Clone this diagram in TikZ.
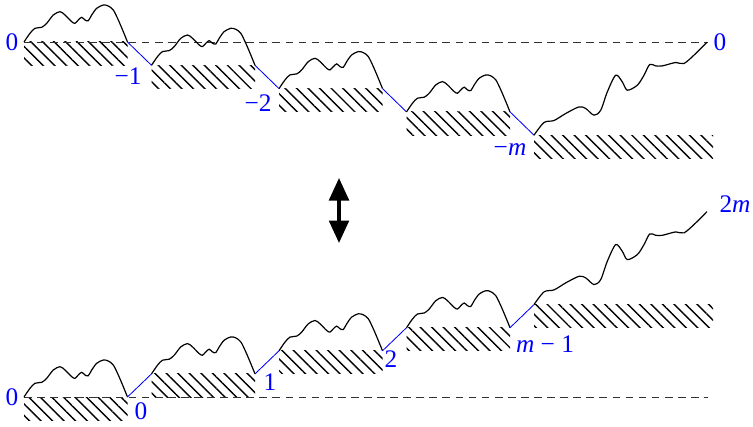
\documentclass[tikz,border=0pt]{standalone}
\usepackage{fontspec}
\setmainfont{Liberation Serif}
\usetikzlibrary{arrows.meta,patterns.meta,calc}
\definecolor{mlblue}{RGB}{0,0,255}
\definecolor{mlgray}{RGB}{50,50,50}

\tikzset{
  walk/.style={black, line width=0.85pt},
  jump/.style={mlblue, line width=0.6pt},
  level/.style={mlgray, line width=0.7pt, dash pattern=on 5.5pt off 3.8pt},
  hatch/.style={pattern={Lines[angle=-45,distance=5.8pt,line width=1pt]}},
  lab/.style={text=mlblue, inner sep=0pt, font=\fontsize{18}{20}\selectfont},
  biarrow/.style={line width=2.4pt, {Triangle[length=16pt,width=14pt]}-{Triangle[length=16pt,width=14pt]}},
  excursion/.pic={\draw[walk] plot[smooth] coordinates {(0,0) (6,-8.7) (11,-13.7) (17.7,-14.7) (22.7,-18.7) (29.3,-27) (36,-30.3) (41,-27) (47.7,-20.3) (51,-18.7) (54.3,-22) (57.7,-24.7) (61,-22) (64.3,-21.3) (67.7,-27) (72.7,-33.7) (79.3,-37) (84.3,-36) (89.3,-32) (94.3,-22) (99.3,-10.3) (103.5,0)};},
  climb/.pic={\draw[walk] plot[smooth] coordinates {(0,0) (10,-12.7) (20,-14.7) (31.7,-21.7) (45,-28.3) (51.7,-26.7) (60,-20) (66.7,-25) (73.3,-43.3) (81.7,-60) (88.3,-53.3) (93.3,-45) (103.3,-50) (110,-60) (115.7,-70.7) (121.7,-69.3) (128.3,-69.3) (141.7,-72.7) (150,-71.7) (161.7,-81.7) (173,-93)};}
}

\begin{document}
\begin{tikzpicture}[x=0.025cm, y=-0.025cm]
  \useasboundingbox (0,0) rectangle (753,426);
  % top: walk from 0 down to -m and back to 0
  \foreach \k in {0,...,4} {
    \coordinate (tp\k) at ({24+127.5*\k},{42+23.3*\k});
  }
  \foreach \k in {0,...,3} {
    \coordinate (tq\k) at ($(tp\k)+(103.5,0)$);
    \fill[hatch] (tp\k) rectangle ++(103.5,23.3);
  }
  \fill[hatch] (tp4) rectangle (713,158.5);
  \coordinate (tend) at (708,42);
  \draw[level] (tp0) -- (tend);
  \foreach \k [evaluate=\k as \n using int(\k+1)] in {0,...,3} {
    \pic at (tp\k) {excursion};
    \draw[jump] (tq\k) -- (tp\n);
  }
  \pic at (tp4) {climb};
  \node[lab] (t0) at (12,42) {0};
  \node[lab] (t1) at (128,76) {−1};
  \node[lab] (t2) at (258,103) {−2};
  \node[lab] (tm) at (510,150) {−\textit{m}};
  \node[lab] (tz) at (720,42) {0};
  % bijection
  \coordinate (up) at (339,178);
  \coordinate (down) at (339,243);
  \draw[biarrow] (up) -- (down);
  % bottom: shifted walk climbing to 2m
  \foreach \k in {0,...,4} {
    \coordinate (bp\k) at ({24+127.5*\k},{397-23.1*\k});
  }
  \foreach \k in {0,...,3} {
    \coordinate (bq\k) at ($(bp\k)+(103.5,0)$);
    \fill[hatch] (bp\k) rectangle ++(103.5,23.1);
  }
  \fill[hatch] (bp4) rectangle (713,327.7);
  \coordinate (bend) at (708,397);
  \draw[level] (bp0) -- (bend);
  \foreach \k [evaluate=\k as \n using int(\k+1)] in {0,...,3} {
    \pic at (bp\k) {excursion};
    \draw[jump] (bq\k) -- (bp\n);
  }
  \pic at (bp4) {climb};
  \node[lab] (b0) at (12,397) {0};
  \node[lab] (b1) at (141,411) {0};
  \node[lab] (b2) at (270,382) {1};
  \node[lab] (b3) at (391,359) {2};
  \node[lab] (bm) at (545,344) {\textit{m} − 1};
  \node[lab] (b2m) at (735,204) {2\textit{m}};
\end{tikzpicture}
\end{document}
